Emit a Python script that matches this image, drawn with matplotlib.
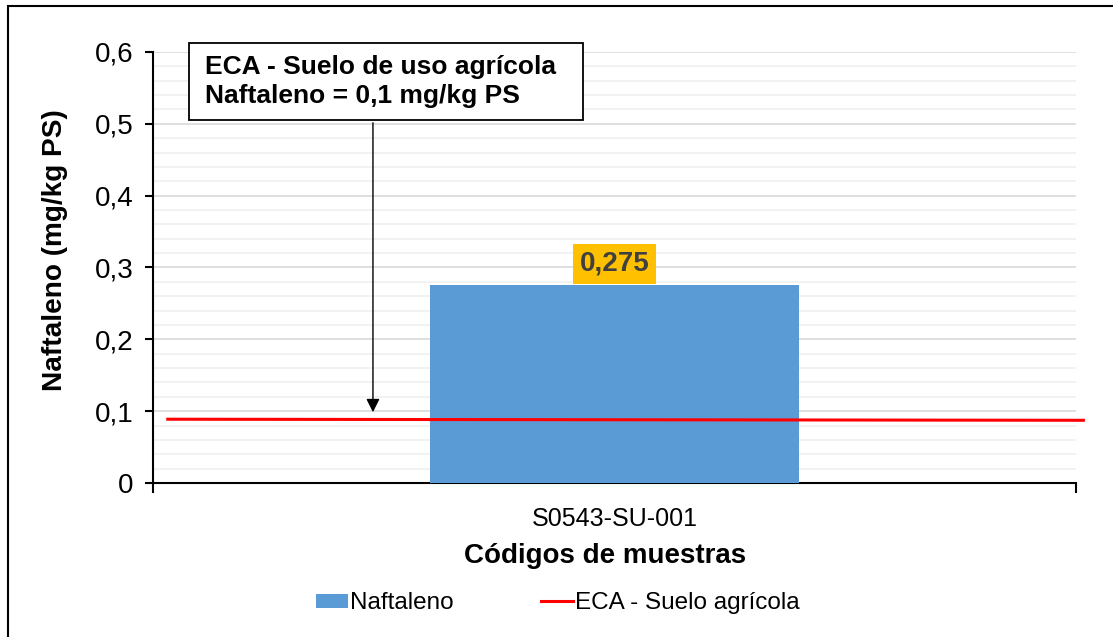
import numpy as np
import matplotlib.pyplot as plt
from matplotlib.patches import Rectangle
from matplotlib.ticker import MultipleLocator, FuncFormatter

plt.rcParams['font.family'] = ['Liberation Sans', 'DejaVu Sans']

# data
muestras = ['S0543-SU-001']
naftaleno = [0.275]
eca_x = [-0.484, 0.508]        # line runs past the plot edges, as in the source
eca_y = [0.0888, 0.0873]

W, H = 1113, 637
fig = plt.figure(figsize=(W / 100, H / 100), dpi=100)
ax = fig.add_axes([153 / W, 1 - 483 / H, (1076 - 153) / W, (483 - 52) / H])

# outer frame (right/bottom edges fall off the picture)
fig.patches.append(Rectangle((8 / W, -0.05), 1.2, 1 - 6 / H + 0.05,
                             transform=fig.transFigure, fill=False,
                             edgecolor='black', linewidth=1.5))

x = np.arange(len(muestras))
bars = ax.bar(x, naftaleno, width=0.4, color='#5b9bd5', zorder=3, label='Naftaleno')
line, = ax.plot(eca_x, eca_y, color='#ff0000', linewidth=2.2, zorder=4, clip_on=False,
                label='ECA - Suelo agrícola')

ax.set_xlim(-0.5, 0.5)
ax.set_ylim(0, 0.6)
ax.yaxis.set_major_locator(MultipleLocator(0.1))
ax.yaxis.set_minor_locator(MultipleLocator(0.02))
ax.yaxis.set_major_formatter(FuncFormatter(lambda v, p: ('%g' % round(v, 2)).replace('.', ',')))
ax.grid(axis='y', which='major', color='#d9d9d9', linewidth=1.2, zorder=0)
ax.grid(axis='y', which='minor', color='#f0f0f0', linewidth=1.2, zorder=0)
ax.tick_params(axis='y', which='minor', length=0)
ax.tick_params(axis='y', which='major', length=6, width=1.5, labelsize=20, pad=8)

# category ticks sit on the edges, label in the middle
ax.set_xticks([-0.5, 0.5])
ax.set_xticklabels(['', ''])
ax.tick_params(axis='x', length=7, width=1.5)
ax.set_xticks(x, minor=True)
ax.set_xticklabels(muestras, minor=True, fontsize=18)
ax.tick_params(axis='x', which='minor', length=0, pad=17)

for s in ['top', 'right']:
    ax.spines[s].set_visible(False)
for s in ['left', 'bottom']:
    ax.spines[s].set_linewidth(1.5)

ax.set_ylabel('Naftaleno (mg/kg PS)', fontsize=20.2, fontweight='bold')
ax.yaxis.set_label_coords(-0.0925, 0.54)
ax.set_xlabel('Códigos de muestras', fontsize=20, fontweight='bold')
ax.xaxis.set_label_coords(0.4897, -0.14)

# data label
for b, v in zip(bars, naftaleno):
    ax.text(b.get_x() + b.get_width() / 2, v + 0.012, ('%g' % v).replace('.', ','),
            ha='center', va='bottom', fontsize=20, fontweight='bold', color='#404040',
            bbox=dict(boxstyle='square,pad=0.25', facecolor='#ffc000', edgecolor='none'),
            zorder=5)

# callout
ax.annotate('', xy=(-0.2617, 0.0947), xytext=(-0.2617, 0.5053),
            arrowprops=dict(arrowstyle='-|>', color='black', lw=1, mutation_scale=20),
            zorder=6)
ax.add_patch(Rectangle((-0.461, 0.5053), 0.4269, 0.1072, facecolor='white',
                       edgecolor='black', linewidth=1.3, zorder=7, clip_on=False))
ax.text(-0.4437, 0.559, 'ECA - Suelo de uso agrícola\nNaftaleno = 0,1 mg/kg PS',
        ha='left', va='center', fontsize=19, fontweight='bold', linespacing=1.25,
        zorder=8)

ax.legend(handles=[bars, line], loc='center', bbox_to_anchor=(0.4388, -0.279), ncol=2,
          frameon=False, fontsize=17.5, handlelength=1.3, handleheight=0.5,
          handletextpad=0.1, columnspacing=3.6)

fig.savefig('out.png', dpi=100)
